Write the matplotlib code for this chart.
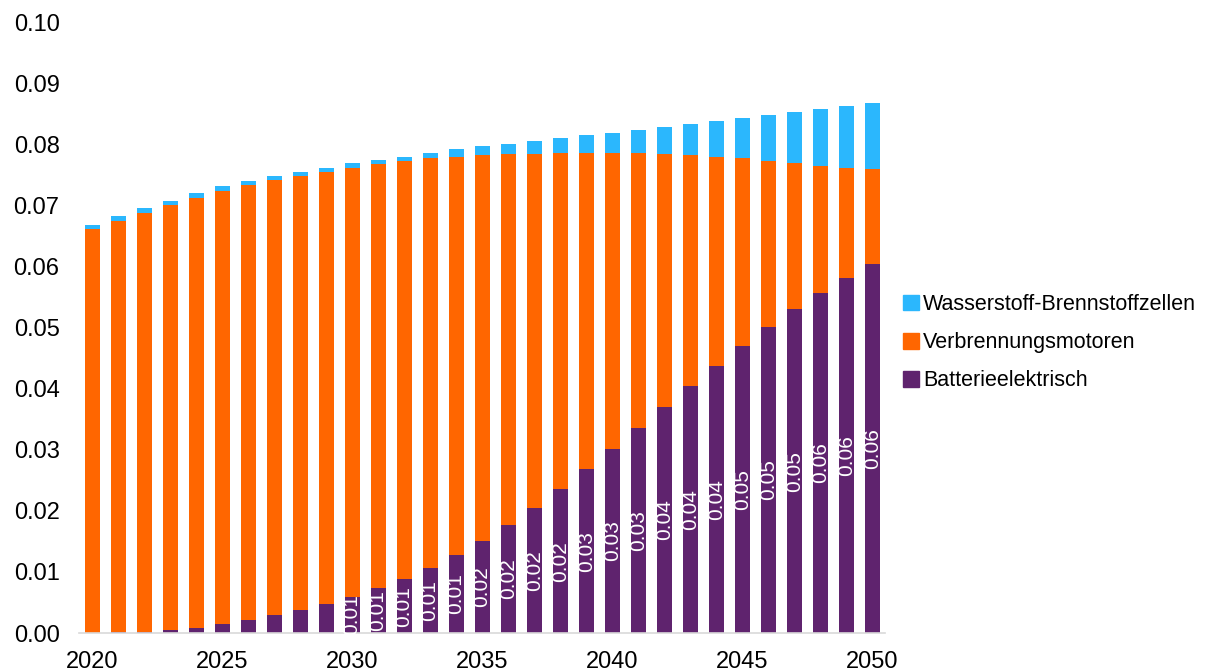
import numpy as np
import matplotlib
matplotlib.use("Agg")
import matplotlib.pyplot as plt
from matplotlib.patches import Patch

plt.rcParams['font.family'] = ['Liberation Sans', 'DejaVu Sans']

years = list(range(2020, 2051))

# Batterieelektrisch
bev = [0.00005, 0.0001, 0.0002, 0.0005, 0.0009, 0.0014, 0.0021, 0.0029, 0.0037, 0.0048,
       0.0059, 0.0073, 0.0088, 0.0107, 0.0128, 0.0151, 0.0177, 0.0205, 0.0235, 0.0268,
       0.0302, 0.0336, 0.0370, 0.0404, 0.0437, 0.0470, 0.0501, 0.0530, 0.0557, 0.0581,
       0.0604]
# Verbrennungsmotoren
ice = [0.06605, 0.0674, 0.0686, 0.0695, 0.0703, 0.0709, 0.0712, 0.0712, 0.0711, 0.0707,
       0.0703, 0.0695, 0.0684, 0.0670, 0.0652, 0.0631, 0.0607, 0.0580, 0.0551, 0.0518,
       0.0484, 0.0450, 0.0415, 0.0379, 0.0343, 0.0307, 0.0272, 0.0239, 0.0208, 0.0181,
       0.0155]
# Wasserstoff-Brennstoffzellen
fcev = [0.0007, 0.0007, 0.0008, 0.0008, 0.0008, 0.0008, 0.0007, 0.0007, 0.0007, 0.0007,
        0.0007, 0.0007, 0.0008, 0.0009, 0.0012, 0.0015, 0.0017, 0.0021, 0.0025, 0.0030,
        0.0033, 0.0038, 0.0043, 0.0050, 0.0058, 0.0066, 0.0075, 0.0084, 0.0093, 0.0101,
        0.0109]

c_bev = '#5F236E'
c_ice = '#FF6600'
c_fcev = '#2BB7FD'

fig = plt.figure(figsize=(12.05, 6.72), dpi=100)
ax = fig.add_axes([0.0656, 0.058, 0.669, 0.909])

w = 0.58
bev_bars = ax.bar(years, bev, width=w, color=c_bev)
ax.bar(years, ice, width=w, bottom=bev, color=c_ice)
ax.bar(years, fcev, width=w, bottom=np.add(bev, ice), color=c_fcev)

lbls = ['%.2f' % v if v >= 0.005 else '' for v in bev]
ax.bar_label(bev_bars, labels=lbls, label_type='center', rotation=90,
             color='white', fontsize=15)

ax.set_xlim(2019.5, 2050.5)
ax.set_ylim(0, 0.10)
ax.set_yticks(np.arange(0, 0.101, 0.01))
ax.set_yticklabels(['%.2f' % t for t in np.arange(0, 0.101, 0.01)])
ax.set_xticks(range(2020, 2051, 5))
ax.tick_params(axis='y', length=0, pad=14, labelsize=17)
ax.tick_params(axis='x', length=0, pad=13, labelsize=17)
for s in ['top', 'right', 'left']:
    ax.spines[s].set_visible(False)
ax.spines['bottom'].set_color('#D9D9D9')
ax.spines['bottom'].set_linewidth(1.2)

handles = [Patch(color=c_fcev), Patch(color=c_ice), Patch(color=c_bev)]
names = ['Wasserstoff-Brennstoffzellen', 'Verbrennungsmotoren', 'Batterieelektrisch']
fig.legend(handles, names, loc='center left', bbox_to_anchor=(0.742, 0.49),
           frameon=False, fontsize=15.5, handlelength=0.75, handleheight=0.75,
           handletextpad=0.2, labelspacing=0.8, borderaxespad=0)

fig.savefig('out.png', dpi=100)
